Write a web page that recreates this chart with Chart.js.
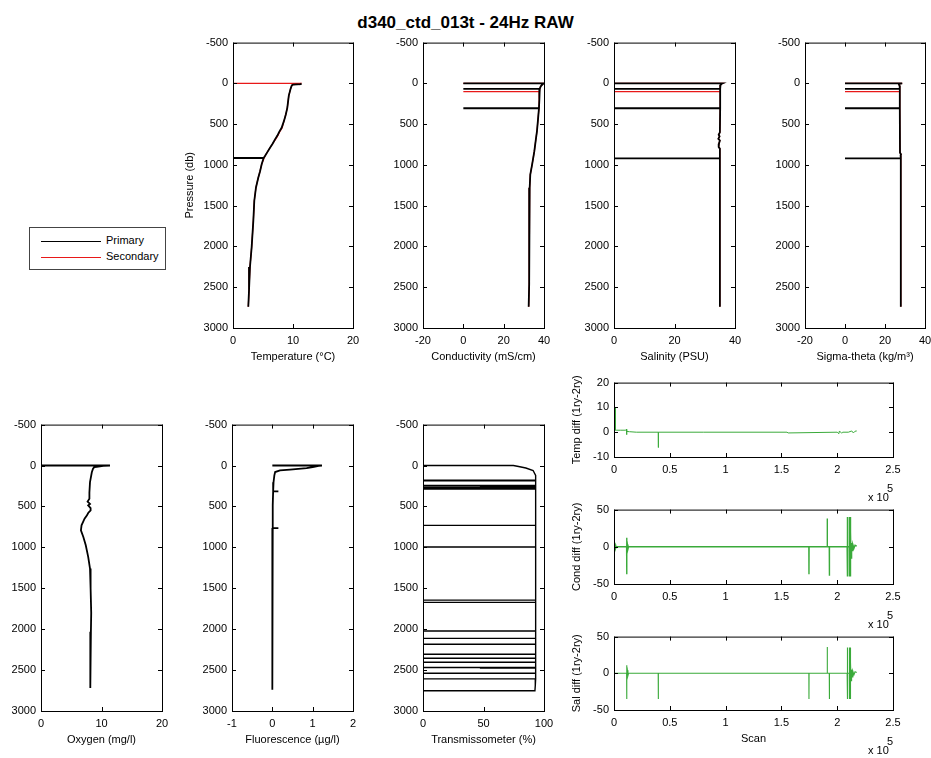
<!DOCTYPE html>
<html><head><meta charset="utf-8">
<script src="https://cdn.jsdelivr.net/npm/chart.js"></script>
<style>
body{margin:0;background:#fff;width:931px;height:758px;overflow:hidden;position:relative;font-family:"Liberation Sans",Arial,Helvetica,sans-serif;color:#000;}
canvas{position:absolute;}
.t{position:absolute;white-space:nowrap;font-size:11px;line-height:13px;}
#title{position:absolute;left:0;top:14px;width:931px;text-align:center;font-weight:bold;font-size:17px;line-height:17px;}
#legend{position:absolute;left:29px;top:227px;width:137px;height:43px;box-sizing:border-box;border:1px solid #444;background:#fff;}
.lg{position:absolute;left:11px;width:60px;height:1px;}
</style></head><body>
<div id="title">d340_ctd_013t - 24Hz RAW</div>
<div id="legend"></div>
<script>
// ---------------- DATA ----------------
const legendLabels = ['Primary', 'Secondary'];
const pressureTicks = [-500, 3000, 500];

// Temperature (deg C) vs pressure (db)
const tempPriP = [0, 8, 15, 25, 65, 150, 300, 382, 460, 545, 594, 640, 687, 740, 789, 840, 890, 915, 915, 915, 992, 1080, 1154, 1276, 1439, 1683, 2008, 2252, 2537, 2740];
const tempPriV = [11.4, 11.3, 10.0, 9.8, 9.6, 9.3, 9.05, 8.8, 8.5, 8.1, 7.7, 7.4, 7.0, 6.6, 6.17, 5.75, 5.33, 5.1, 0, 5.1, 4.78, 4.5, 4.22, 3.83, 3.55, 3.39, 3.11, 2.83, 2.67, 2.55];
const tempSecP = [0, 0, 8, 15, 25, 65, 150, 300, 382, 460, 545, 594, 640, 687, 740, 789, 840, 890, 992, 1080, 1154, 1276, 1439, 1683, 2008, 2252, 2537, 2740];
const tempSecV = [0, 11.3, 11.2, 10.0, 9.8, 9.6, 9.3, 9.05, 8.8, 8.5, 8.2, 7.8, 7.5, 7.1, 6.6, 6.17, 5.75, 5.33, 4.78, 4.5, 4.22, 3.83, 3.55, 3.39, 3.11, 2.83, 2.67, 2.55];

// Conductivity (mS/cm)
const condPriP = [0, 0, 5, 15, 40, 68, 68, 68, 82, 200, 305, 305, 305, 450, 590, 700, 834, 996, 1118, 1280, 1809, 2460, 2740];
const condPriV = [0, 39.8, 39.6, 39.0, 38.3, 37.9, 0, 37.9, 37.8, 37.6, 37.5, 0, 37.5, 37.0, 36.5, 35.9, 35.2, 34.1, 33.2, 32.9, 32.7, 32.6, 32.4];
const condSecP = [0, 0, 5, 15, 40, 68, 82, 100, 100, 100, 200, 305, 450, 590, 700, 834, 996, 1118, 1280, 1809, 2460, 2740];
const condSecV = [0, 39.8, 39.6, 39.0, 38.3, 37.9, 37.8, 37.7, 0, 37.7, 37.6, 37.5, 37.0, 36.5, 35.9, 35.2, 34.1, 33.2, 32.9, 32.7, 32.6, 32.4];

// Salinity (PSU)
const salPriP = [0, 0, 5, 20, 68, 68, 68, 100, 305, 305, 305, 600, 630, 650, 680, 700, 740, 780, 800, 920, 920, 920, 1500, 2740];
const salPriV = [0, 35.9, 35.6, 35.2, 35.1, 0, 35.1, 35.1, 35.1, 0, 35.1, 35.0, 34.6, 34.9, 34.5, 35.0, 34.7, 34.6, 35.0, 35.0, 0, 35.0, 35.0, 35.0];
const salSecP = [0, 0, 5, 20, 68, 100, 100, 100, 305, 600, 630, 650, 680, 700, 740, 780, 800, 920, 1500, 2740];
const salSecV = [0, 35.9, 35.6, 35.2, 35.1, 35.1, 0, 35.1, 35.1, 35.0, 34.6, 34.9, 34.5, 35.0, 34.7, 34.6, 35.0, 35.0, 35.0, 35.0];

// Sigma-theta (kg/m3)
const sigPriP = [0, 0, 5, 30, 68, 68, 68, 300, 305, 305, 305, 850, 870, 880, 920, 920, 920, 1500, 2740];
const sigPriV = [0, 28.6, 26.8, 27.3, 27.4, 0, 27.4, 27.4, 27.4, 0, 27.4, 27.5, 28.0, 27.8, 27.9, 0, 27.9, 27.9, 27.9];
const sigSecP = [0, 0, 5, 30, 68, 100, 100, 100, 300, 305, 850, 870, 880, 920, 1500, 2740];
const sigSecV = [0, 28.6, 26.8, 27.3, 27.4, 27.4, 0, 27.4, 27.4, 27.4, 27.5, 28.0, 27.8, 27.9, 27.9, 27.9];

// Oxygen (mg/l)
const oxyP = [0, 0, 5, 15, 20, 40, 82, 204, 330, 407, 440, 470, 488, 520, 548, 580, 609, 650, 731, 792, 873, 975, 1117, 1259, 1503, 1800, 2030, 2314, 2720];
const oxyV = [0, 11.4, 10.3, 9.2, 8.8, 8.6, 8.4, 8.1, 8.0, 8.0, 7.7, 8.1, 7.8, 8.2, 8.2, 7.8, 7.6, 7.2, 6.7, 6.6, 7.0, 7.4, 7.8, 8.1, 8.2, 8.3, 8.25, 8.2, 8.1];

// Fluorescence (ug/l)
const fluoP = [0, 0, 5, 20, 33, 50, 60, 80, 120, 204, 317, 317, 317, 484, 764, 764, 764, 2740];
const fluoV = [0, 1.23, 1.15, 1.0, 0.85, 0.44, 0.19, 0.07, 0.05, 0.03, 0.02, 0.15, 0.02, 0.01, 0.01, 0.15, 0.01, 0.0];

// Transmissometer (%)
const transP = [
  0, 0, 12, 30, 61, 122,
  180, 180, 180,  186, 186, 186,  244, 244, 244,  252, 252, 252,
  264, 264, 264,  280, 280, 280,  287, 287, 287,  731, 731, 731,
  995, 995, 995,  1645, 1645, 1645,  1673, 1673, 1673,  2022, 2022, 2022,
  2112, 2112, 2112,  2185, 2185, 2185,  2307, 2307, 2307,  2355, 2355, 2355,
  2404, 2404, 2404,  2469, 2469, 2469,  2476, 2476, 2476,  2538, 2538, 2538,
  2607, 2607, 2607,  2690, 2753, 2753
];
const transV = [
  0, 74.7, 79, 85, 91, 93.1,
  93.1, 0, 93.1,  93.1, 0, 93.1,  93.1, 0, 93.1,  93.1, 47, 93.1,
  93.1, 0, 93.1,  93.1, 0, 93.1,  93.1, 0, 93.1,  93.1, 0, 93.1,
  93.1, 0, 93.1,  93.1, 0, 93.1,  93.1, 0, 93.1,  93.1, 0, 93.1,
  93.1, 0, 93.1,  93.1, 0, 93.1,  93.1, 0, 93.1,  93.1, 0, 93.1,
  93.1, 0, 93.1,  93.1, 0, 93.1,  93.1, 47, 93.1,  93.1, 0, 93.1,
  93.1, 0, 93.1,  92.8, 92.5, 0
];

// Primary - secondary differences vs scan number
const tdScan = [1000, 1050, 1100, 1300, 2000, 6000, 10500, 11200, 11300, 11400, 11500, 14000, 20000, 39700, 39750, 39800, 80000, 155000, 156000, 200000, 201500, 202000, 204000, 205000, 210000, 213000, 214500, 216000, 217500];
const tdVal  = [10, 0.8, 6, 0.8, 0.8, 0.8, 0.8, 1.2, -1, 0.8, 0.3, 0.2, 0, 0, -6.2, 0, 0, 0, -0.3, 0, -0.6, 0.5, -0.4, 0, 0, 0.5, -0.3, 0.4, 0.5];
const cdScan = [0, 1000, 1500, 2000, 11300, 11400, 11450, 11500, 12000, 12500, 13000, 174600, 174700, 174800, 191000, 191100, 191200, 192900, 193000, 193100, 208900, 209000, 209100, 209500, 210800, 210900, 211000, 211600, 211700, 211800, 212000, 212200, 212400, 212800, 213000, 213500, 214000, 215000, 216000, 217500];
const cdVal  = [0, 3, -2, 0, 0, 12, -37, 0, 3, -3, 0, 0, -37, 0, 0, 38, 0, 0, -39, 0, 0, 40, -40, 0, 0, 40, -40, 0, 40, -40, 0, 20, -15, 0, 5, -5, 3, -2, 2, 1];
const sdScan = [0, 11300, 11400, 11450, 11500, 12000, 12500, 13000, 39600, 39700, 39800, 174600, 174700, 174800, 191000, 191100, 191200, 192900, 193000, 193100, 208900, 209000, 209100, 209500, 210800, 210900, 211000, 211600, 211700, 211800, 212000, 212200, 212400, 212800, 213000, 213500, 214000, 215000, 216000, 217500];
const sdVal  = [0, 0, 11, -35, 0, 4, -3, 0, 0, -35, 0, 0, -35, 0, 0, 36, 0, 0, -35, 0, 0, 35, -35, 0, 0, 35, -35, 0, 35, -35, 0, 15, -10, 0, 5, -5, 3, -2, 2, 1];

// ---------------- RENDER ----------------
Chart.defaults.font.family = '"Liberation Sans", Arial, Helvetica, sans-serif';
Chart.defaults.font.size = 11;
Chart.defaults.color = '#000';
Chart.defaults.animation = false;

const PRI = '#000000', SEC = '#e81818', GRN = '#3aaa3a';
const PAD_T = 10, PAD_R = 16, X_H = 40;

// legend (html)
const lg = document.getElementById('legend');
[[PRI, 13], [SEC, 29]].forEach((c, i) => {
  const l = document.createElement('div'); l.className = 'lg';
  l.style.top = c[1] + 'px'; l.style.background = c[0]; lg.appendChild(l);
  const t = document.createElement('div'); t.className = 't';
  t.style.left = '76px'; t.style.top = (c[1] - 7) + 'px'; t.textContent = legendLabels[i]; lg.appendChild(t);
});

const frame = {
  id: 'frame',
  afterDraw(chart) {
    const {ctx, chartArea: a, scales} = chart;
    ctx.save();
    ctx.strokeStyle = '#000'; ctx.lineWidth = 1;
    ctx.strokeRect(a.left + 0.5, a.top + 0.5, a.right - a.left, a.bottom - a.top);
    const tl = 4;
    ctx.beginPath();
    scales.x.ticks.forEach(t => {
      const px = Math.round(scales.x.getPixelForValue(t.value)) + 0.5;
      ctx.moveTo(px, a.bottom); ctx.lineTo(px, a.bottom - tl);
      ctx.moveTo(px, a.top); ctx.lineTo(px, a.top + tl);
    });
    scales.y.ticks.forEach(t => {
      const py = Math.round(scales.y.getPixelForValue(t.value)) + 0.5;
      ctx.moveTo(a.left, py); ctx.lineTo(a.left + tl, py);
      ctx.moveTo(a.right, py); ctx.lineTo(a.right - tl, py);
    });
    ctx.stroke();
    ctx.restore();
  }
};

function pts(xs, ys) { return xs.map((x, i) => ({x: x, y: ys[i]})); }

function panel(rect, yW, datasets, xs, ys) {
  const c = document.createElement('canvas');
  const w = yW + (rect[2] - rect[0]) + PAD_R;
  const h = PAD_T + (rect[3] - rect[1]) + X_H + 2;
  c.width = w; c.height = h;
  c.style.left = (rect[0] - yW) + 'px'; c.style.top = (rect[1] - PAD_T) + 'px';
  c.style.width = w + 'px'; c.style.height = h + 'px';
  document.body.appendChild(c);
  const axisBase = {
    type: 'linear', grid: {display: false, drawTicks: false}, border: {display: false},
  };
  new Chart(c, {
    type: 'scatter',
    data: {datasets},
    options: {
      responsive: false, animation: false,
      layout: {padding: {top: PAD_T, right: PAD_R, left: 0, bottom: 2}},
      plugins: {legend: {display: false}, tooltip: {enabled: false}},
      scales: {
        x: Object.assign({}, axisBase, {
          position: 'bottom', min: xs.min, max: xs.max,
          ticks: {stepSize: xs.step, padding: 6, maxRotation: 0, autoSkip: false,
                  callback: xs.fmt || (v => String(v))},
          title: {display: !!xs.title, text: xs.title, padding: {top: 0, bottom: 4}},
          afterFit: s => { s.height = X_H; }
        }),
        y: Object.assign({}, axisBase, {
          position: 'left', min: ys.min, max: ys.max, reverse: !!ys.reverse,
          ticks: {stepSize: ys.step, padding: 5, autoSkip: false, callback: v => String(v)},
          title: {display: !!ys.title, text: ys.title, padding: {top: 0, bottom: 0}},
          afterFit: s => { s.width = yW; }
        })
      }
    },
    plugins: [frame]
  });
}

function line(xs, ys, color, w) {
  return {data: pts(xs, ys), showLine: true, borderColor: color, backgroundColor: color,
          borderWidth: w || 1, pointRadius: 0, tension: 0, fill: false};
}

const PY = {min: pressureTicks[0], max: pressureTicks[1], step: pressureTicks[2], reverse: true};

panel([233, 41, 353, 328], 50, [line(tempPriV, tempPriP, PRI, 1.8), line(tempSecV, tempSecP, SEC, 1.2)],
      {min: 0, max: 20, step: 10, title: 'Temperature (\u00B0C)'}, Object.assign({title: 'Pressure (db)'}, PY));
panel([423, 41, 544, 328], 50, [line(condPriV, condPriP, PRI, 1.8), line(condSecV, condSecP, SEC, 1.2)],
      {min: -20, max: 40, step: 20, title: 'Conductivity (mS/cm)'}, PY);
panel([614, 41, 735, 328], 50, [line(salPriV, salPriP, PRI, 1.8), line(salSecV, salSecP, SEC, 1.2)],
      {min: 0, max: 40, step: 20, title: 'Salinity (PSU)'}, PY);
panel([805, 41, 925, 328], 50, [line(sigPriV, sigPriP, PRI, 1.8), line(sigSecV, sigSecP, SEC, 1.2)],
      {min: -20, max: 40, step: 20, title: 'Sigma-theta (kg/m\u00B3)'}, PY);

panel([41, 423, 162, 711], 41, [line(oxyV, oxyP, PRI, 1.8)],
      {min: 0, max: 20, step: 10, title: 'Oxygen (mg/l)'}, PY);
panel([232, 423, 353, 711], 50, [line(fluoV, fluoP, PRI, 1.8)],
      {min: -1, max: 2, step: 1, title: 'Fluorescence (\u00B5g/l)'}, PY);
panel([423, 423, 544, 711], 50, [line(transV, transP, PRI, 1.4)],
      {min: 0, max: 100, step: 50, title: 'Transmissometer (%)'}, PY);

const scanFmt = v => String(v / 1e5);
panel([614, 381, 893, 457], 44, [line(tdScan, tdVal, GRN, 1)],
      {min: 0, max: 250000, step: 50000, fmt: scanFmt}, {min: -10, max: 20, step: 10, title: 'Temp diff (1ry-2ry)'});
panel([614, 508, 893, 584], 44, [line(cdScan, cdVal, GRN, 1.4)],
      {min: 0, max: 250000, step: 50000, fmt: scanFmt}, {min: -50, max: 50, step: 50, title: 'Cond diff (1ry-2ry)'});
panel([614, 635, 893, 710], 44, [line(sdScan, sdVal, GRN, 1.1)],
      {min: 0, max: 250000, step: 50000, fmt: scanFmt, title: 'Scan'}, {min: -50, max: 50, step: 50, title: 'Sal diff (1ry-2ry)'});

// exponent labels (x 10^5)
[457, 584, 710].forEach(b => {
  const a = document.createElement('div'); a.className = 't';
  a.style.left = '868px'; a.style.top = (b + 34) + 'px'; a.textContent = 'x 10';
  document.body.appendChild(a);
  const e = document.createElement('div'); e.className = 't';
  e.style.left = '887px'; e.style.top = (b + 25) + 'px'; e.textContent = '5';
  document.body.appendChild(e);
});
</script>
</body></html>
